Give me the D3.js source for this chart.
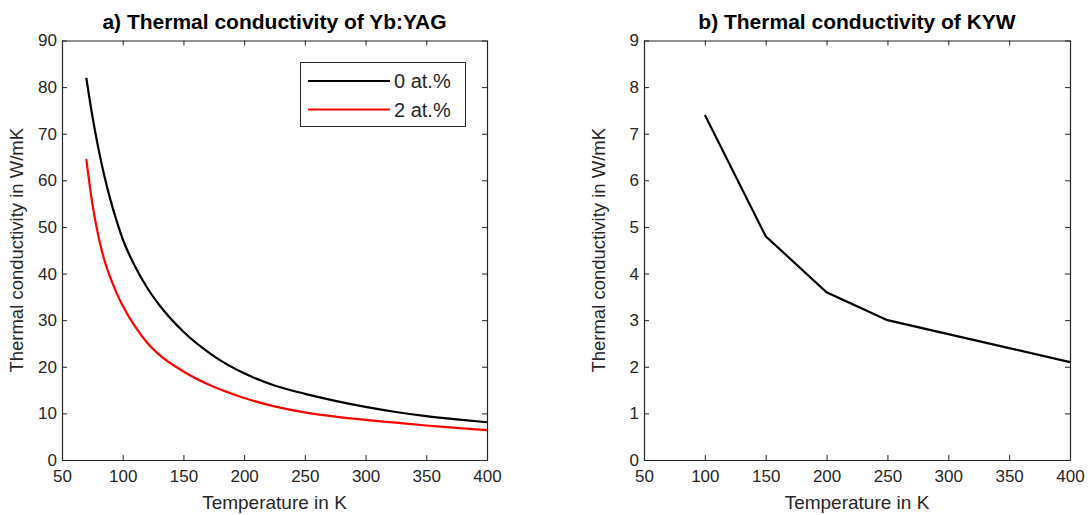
<!DOCTYPE html>
<html>
<head>
<meta charset="utf-8">
<script src="https://cdn.jsdelivr.net/npm/d3@7"></script>
<style>
  body { margin: 0; background: #fff; }
  svg { display: block; }
  text { font-family: "Liberation Sans", Arial, Helvetica, sans-serif; fill: #262626; }
  .axis path, .axis line { stroke: #262626; }
  .axis text { font-size: 17px; }
</style>
</head>
<body>
<script>
// Yb:YAG curves (panel a)
var yagTemp = [70, 75, 80, 85, 90, 95, 100, 110, 120, 130, 150, 175, 200, 225, 250, 275, 300, 325, 350, 375, 400];
var yag0 = [82, 73.8, 66.8, 60.8, 55.7, 51.3, 47.4, 41.6, 37.0, 33.3, 27.5, 22.3, 18.6, 16.0, 14.2, 12.7, 11.4, 10.3, 9.4, 8.7, 8.1];
var yag2 = [64.6, 55.0, 48.0, 42.8, 39.0, 35.8, 33.1, 28.7, 25.2, 22.6, 19.0, 15.7, 13.3, 11.5, 10.2, 9.3, 8.6, 8.0, 7.4, 6.9, 6.4];
var yagLegend = ["0 at.%", "2 at.%"];

// KYW curve (panel b)
var kywTemp = [100, 150, 200, 250, 300, 350, 400];
var kywVal = [7.4, 4.8, 3.6, 3.0, 2.7, 2.4, 2.1];

var xTicks = [50, 100, 150, 200, 250, 300, 350, 400];
var yTicksA = [0, 10, 20, 30, 40, 50, 60, 70, 80, 90];
var yTicksB = [0, 1, 2, 3, 4, 5, 6, 7, 8, 9];

var width = 1088, height = 515;

var svg = d3.select("body").append("svg")
    .attr("width", width)
    .attr("height", height);

//draw one boxed panel, return its scales
function drawPanel(left, right, yMax, yTicks, title){
    var top = 40.5, bottom = 460;
    var x = d3.scaleLinear().domain([50, 400]).range([left, right]);
    var y = d3.scaleLinear().domain([0, yMax]).range([bottom, top]);

    svg.append("g").attr("class", "axis")
        .attr("transform", "translate(0," + bottom + ")")
        .call(d3.axisBottom(x).tickValues(xTicks).tickSizeInner(-5).tickSizeOuter(0).tickPadding(10));
    svg.append("g").attr("class", "axis")
        .attr("transform", "translate(0," + top + ")")
        .call(d3.axisTop(x).tickValues(xTicks).tickSizeInner(-5).tickSizeOuter(0).tickFormat(""));
    svg.append("g").attr("class", "axis")
        .attr("transform", "translate(" + left + ",0)")
        .call(d3.axisLeft(y).tickValues(yTicks).tickSizeInner(-5).tickSizeOuter(0).tickPadding(5));
    svg.append("g").attr("class", "axis")
        .attr("transform", "translate(" + right + ",0)")
        .call(d3.axisRight(y).tickValues(yTicks).tickSizeInner(-5).tickSizeOuter(0).tickFormat(""));

    svg.selectAll(".axis .domain").attr("stroke-width", 1.2);

    //title
    svg.append("text")
        .attr("x", (left + right) / 2)
        .attr("y", 29)
        .attr("text-anchor", "middle")
        .style("font-size", "21px")
        .style("font-weight", "bold")
        .style("fill", "#000")
        .text(title);

    //axis labels
    svg.append("text")
        .attr("x", (left + right) / 2)
        .attr("y", 509)
        .attr("text-anchor", "middle")
        .style("font-size", "19px")
        .text("Temperature in K");
    svg.append("text")
        .attr("transform", "translate(" + (left - 39) + "," + ((top + bottom) / 2) + ") rotate(-90)")
        .attr("text-anchor", "middle")
        .style("font-size", "18.5px")
        .text("Thermal conductivity in W/mK");

    return {x: x, y: y};
}

var a = drawPanel(62, 487, 90, yTicksA, "a) Thermal conductivity of Yb:YAG");
var b = drawPanel(644, 1070, 9, yTicksB, "b) Thermal conductivity of KYW");

var lineA = d3.line()
    .x(function(d){ return a.x(d[0]); })
    .y(function(d){ return a.y(d[1]); })
    .curve(d3.curveMonotoneX);

svg.append("path")
    .datum(d3.zip(yagTemp, yag0))
    .attr("d", lineA)
    .attr("fill", "none")
    .attr("stroke", "#000")
    .attr("stroke-width", 2.2);

svg.append("path")
    .datum(d3.zip(yagTemp, yag2))
    .attr("d", lineA)
    .attr("fill", "none")
    .attr("stroke", "#ff0000")
    .attr("stroke-width", 2.2);

var lineB = d3.line()
    .x(function(d){ return b.x(d[0]); })
    .y(function(d){ return b.y(d[1]); });

svg.append("path")
    .datum(d3.zip(kywTemp, kywVal))
    .attr("d", lineB)
    .attr("fill", "none")
    .attr("stroke", "#000")
    .attr("stroke-width", 2.2);

//legend for panel a
var legend = svg.append("g");
legend.append("rect")
    .attr("x", 300.5).attr("y", 62.5)
    .attr("width", 165).attr("height", 64)
    .attr("fill", "#fff")
    .attr("stroke", "#262626")
    .attr("stroke-width", 1);
var legColors = ["#000", "#ff0000"];
yagLegend.forEach(function(lbl, i){
    var ly = 81 + i * 28.5;
    legend.append("line")
        .attr("x1", 308).attr("x2", 390)
        .attr("y1", ly).attr("y2", ly)
        .attr("stroke", legColors[i])
        .attr("stroke-width", 2.2);
    legend.append("text")
        .attr("x", 394).attr("y", ly + 7)
        .style("font-size", "20px")
        .text(lbl);
});
</script>
</body>
</html>
